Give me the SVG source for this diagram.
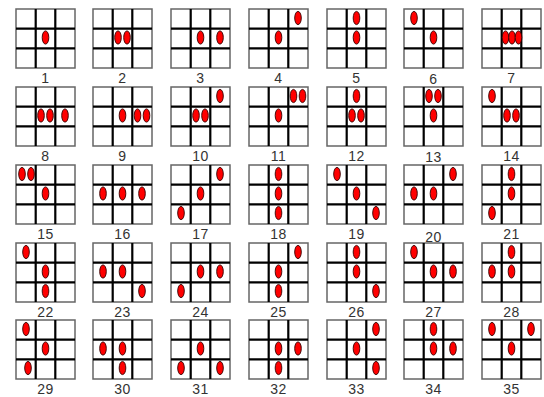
<svg xmlns="http://www.w3.org/2000/svg" xmlns:xlink="http://www.w3.org/1999/xlink" width="544" height="397" viewBox="0 0 544 397">
<style>
.o{fill:#fff;stroke:#666;stroke-width:1.5}
.l{stroke:#000;stroke-width:2.2;fill:none}
.e{fill:#f00;stroke:#300;stroke-width:0.9}
text{font-family:"Liberation Sans",Arial,sans-serif;font-size:14px;fill:#333;text-anchor:middle;letter-spacing:0.5px}
</style>
<defs>
<g id="grid">
<rect class="o" x="0" y="0" width="59" height="59"/>
<path class="l" d="M19.7 0V59M39.3 0V59M0 19.7H59M0 39.3H59"/>
</g>
<ellipse id="d" class="e" cx="0" cy="0" rx="3.3" ry="6.6"/>
</defs>
<rect width="544" height="397" fill="#fff"/>
<g id="connectors"/>
<g id="n1" transform="translate(16,9)"><use href="#grid"/><use href="#d" x="29.5" y="28.5"/><text x="29.5" y="73.5">1</text></g>
<g id="n2" transform="translate(93,9)"><use href="#grid"/><use href="#d" x="25" y="28.5"/><use href="#d" x="34" y="28.5"/><text x="29.5" y="73.5">2</text></g>
<g id="n3" transform="translate(171,9)"><use href="#grid"/><use href="#d" x="29.5" y="28.5"/><use href="#d" x="49" y="28.5"/><text x="29.5" y="73.5">3</text></g>
<g id="n4" transform="translate(249,9)"><use href="#grid"/><use href="#d" x="49" y="9"/><use href="#d" x="29.5" y="28.5"/><text x="29.5" y="73.5">4</text></g>
<g id="n5" transform="translate(327,9)"><use href="#grid"/><use href="#d" x="29.5" y="9"/><use href="#d" x="29.5" y="28.5"/><text x="29.5" y="73.5">5</text></g>
<g id="n6" transform="translate(404,9)"><use href="#grid"/><use href="#d" x="10" y="9"/><use href="#d" x="29.5" y="28.5"/><text x="29.5" y="74.5">6</text></g>
<g id="n7" transform="translate(482,9)"><use href="#grid"/><use href="#d" x="23.5" y="28.5"/><use href="#d" x="30" y="28.5"/><use href="#d" x="36.5" y="28.5"/><text x="29.5" y="73.5">7</text></g>
<g id="n8" transform="translate(16,87)"><use href="#grid"/><use href="#d" x="25" y="28.5"/><use href="#d" x="34" y="28.5"/><use href="#d" x="49" y="28.5"/><text x="29.5" y="73.5">8</text></g>
<g id="n9" transform="translate(93,87)"><use href="#grid"/><use href="#d" x="29.5" y="28.5"/><use href="#d" x="44.5" y="28.5"/><use href="#d" x="53.5" y="28.5"/><text x="29.5" y="73.5">9</text></g>
<g id="n10" transform="translate(171,87)"><use href="#grid"/><use href="#d" x="49" y="9"/><use href="#d" x="25" y="28.5"/><use href="#d" x="34" y="28.5"/><text x="29.5" y="73.5">10</text></g>
<g id="n11" transform="translate(249,87)"><use href="#grid"/><use href="#d" x="44.5" y="9"/><use href="#d" x="53.5" y="9"/><use href="#d" x="29.5" y="28.5"/><text x="29.5" y="73.5">11</text></g>
<g id="n12" transform="translate(327,87)"><use href="#grid"/><use href="#d" x="29.5" y="9"/><use href="#d" x="25" y="28.5"/><use href="#d" x="34" y="28.5"/><text x="29.5" y="73.5">12</text></g>
<g id="n13" transform="translate(404,87)"><use href="#grid"/><use href="#d" x="25" y="9"/><use href="#d" x="34" y="9"/><use href="#d" x="29.5" y="28.5"/><text x="29.5" y="74.5">13</text></g>
<g id="n14" transform="translate(482,87)"><use href="#grid"/><use href="#d" x="10" y="9"/><use href="#d" x="25" y="28.5"/><use href="#d" x="34" y="28.5"/><text x="29.5" y="73.5">14</text></g>
<g id="n15" transform="translate(16,165)"><use href="#grid"/><use href="#d" x="6" y="9"/><use href="#d" x="15" y="9"/><use href="#d" x="29.5" y="28.5"/><text x="29.5" y="73.5">15</text></g>
<g id="n16" transform="translate(93,165)"><use href="#grid"/><use href="#d" x="10" y="28.5"/><use href="#d" x="29.5" y="28.5"/><use href="#d" x="49" y="28.5"/><text x="29.5" y="73.5">16</text></g>
<g id="n17" transform="translate(171,165)"><use href="#grid"/><use href="#d" x="49" y="9"/><use href="#d" x="29.5" y="28.5"/><use href="#d" x="10" y="48"/><text x="29.5" y="73.5">17</text></g>
<g id="n18" transform="translate(249,165)"><use href="#grid"/><use href="#d" x="29.5" y="9"/><use href="#d" x="29.5" y="28.5"/><use href="#d" x="29.5" y="48"/><text x="29.5" y="73.5">18</text></g>
<g id="n19" transform="translate(327,165)"><use href="#grid"/><use href="#d" x="10" y="9"/><use href="#d" x="29.5" y="28.5"/><use href="#d" x="49" y="48"/><text x="29.5" y="73.5">19</text></g>
<g id="n20" transform="translate(404,165)"><use href="#grid"/><use href="#d" x="49" y="9"/><use href="#d" x="10" y="28.5"/><use href="#d" x="29.5" y="28.5"/><text x="29.5" y="76.5">20</text></g>
<g id="n21" transform="translate(482,165)"><use href="#grid"/><use href="#d" x="29.5" y="9"/><use href="#d" x="29.5" y="28.5"/><use href="#d" x="10" y="48"/><text x="29.5" y="73.5">21</text></g>
<g id="n22" transform="translate(16,243)"><use href="#grid"/><use href="#d" x="10" y="9"/><use href="#d" x="29.5" y="28.5"/><use href="#d" x="29.5" y="48"/><text x="29.5" y="73.5">22</text></g>
<g id="n23" transform="translate(93,243)"><use href="#grid"/><use href="#d" x="10" y="28.5"/><use href="#d" x="29.5" y="28.5"/><use href="#d" x="49" y="48"/><text x="29.5" y="73.5">23</text></g>
<g id="n24" transform="translate(171,243)"><use href="#grid"/><use href="#d" x="29.5" y="28.5"/><use href="#d" x="49" y="28.5"/><use href="#d" x="10" y="48"/><text x="29.5" y="73.5">24</text></g>
<g id="n25" transform="translate(249,243)"><use href="#grid"/><use href="#d" x="49" y="9"/><use href="#d" x="29.5" y="28.5"/><use href="#d" x="29.5" y="48"/><text x="29.5" y="73.5">25</text></g>
<g id="n26" transform="translate(327,243)"><use href="#grid"/><use href="#d" x="29.5" y="9"/><use href="#d" x="29.5" y="28.5"/><use href="#d" x="49" y="48"/><text x="29.5" y="73.5">26</text></g>
<g id="n27" transform="translate(404,243)"><use href="#grid"/><use href="#d" x="10" y="9"/><use href="#d" x="29.5" y="28.5"/><use href="#d" x="49" y="28.5"/><text x="29.5" y="73.5">27</text></g>
<g id="n28" transform="translate(482,243)"><use href="#grid"/><use href="#d" x="29.5" y="9"/><use href="#d" x="10" y="28.5"/><use href="#d" x="29.5" y="28.5"/><text x="29.5" y="73.5">28</text></g>
<g id="n29" transform="translate(16,320)"><use href="#grid"/><use href="#d" x="10" y="9"/><use href="#d" x="29.5" y="28.5"/><use href="#d" x="12" y="48"/><text x="29.5" y="73.5">29</text></g>
<g id="n30" transform="translate(93,320)"><use href="#grid"/><use href="#d" x="10" y="28.5"/><use href="#d" x="29.5" y="28.5"/><use href="#d" x="29.5" y="48"/><text x="29.5" y="73.5">30</text></g>
<g id="n31" transform="translate(171,320)"><use href="#grid"/><use href="#d" x="29.5" y="28.5"/><use href="#d" x="10" y="48"/><use href="#d" x="49" y="48"/><text x="29.5" y="73.5">31</text></g>
<g id="n32" transform="translate(249,320)"><use href="#grid"/><use href="#d" x="29.5" y="28.5"/><use href="#d" x="49" y="28.5"/><use href="#d" x="29.5" y="48"/><text x="29.5" y="73.5">32</text></g>
<g id="n33" transform="translate(327,320)"><use href="#grid"/><use href="#d" x="49" y="9"/><use href="#d" x="29.5" y="28.5"/><use href="#d" x="49" y="48"/><text x="29.5" y="73.5">33</text></g>
<g id="n34" transform="translate(404,320)"><use href="#grid"/><use href="#d" x="29.5" y="9"/><use href="#d" x="29.5" y="28.5"/><use href="#d" x="49" y="28.5"/><text x="29.5" y="73.5">34</text></g>
<g id="n35" transform="translate(482,320)"><use href="#grid"/><use href="#d" x="10" y="9"/><use href="#d" x="49" y="9"/><use href="#d" x="29.5" y="28.5"/><text x="29.5" y="73.5">35</text></g>
</svg>
